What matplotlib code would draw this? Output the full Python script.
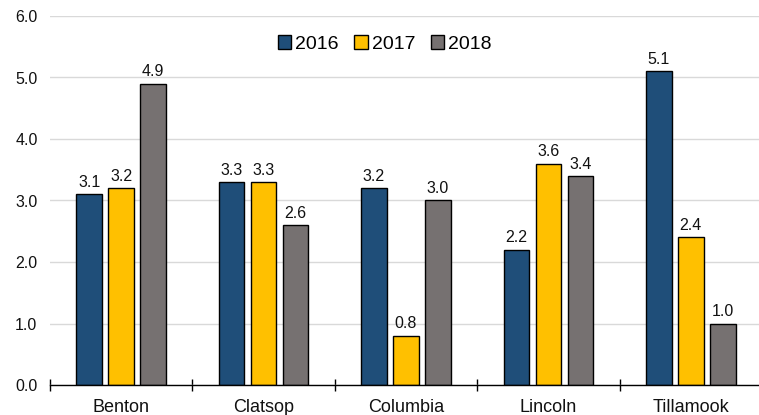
import matplotlib
matplotlib.use("Agg")
import matplotlib.pyplot as plt
import numpy as np

plt.rcParams['font.family'] = ['Liberation Sans', 'DejaVu Sans']

categories = ["Benton", "Clatsop", "Columbia", "Lincoln", "Tillamook"]
years = ["2016", "2017", "2018"]
v2016 = [3.1, 3.3, 3.2, 2.2, 5.1]
v2017 = [3.2, 3.3, 0.8, 3.6, 2.4]
v2018 = [4.9, 2.6, 3.0, 3.4, 1.0]
colors = ["#1F4E79", "#FFC000", "#767171"]

fig = plt.figure(figsize=(7.59, 4.15), dpi=100)
ax = fig.add_axes([50/759, 1-385/415, 712/759, (385-16)/415])

x = np.arange(len(categories))
width = 0.18
pitch = 0.225
for i, (vals, yr, c) in enumerate(zip([v2016, v2017, v2018], years, colors)):
    pos = x + (i - 1) * pitch
    bars = ax.bar(pos, vals, width, color=c, edgecolor="black", linewidth=1.0, label=yr, zorder=3)
    for b, v in zip(bars, vals):
        ax.text(b.get_x() + b.get_width()/2, v + 0.07, f"{v:.1f}", ha="center", va="bottom",
                fontsize=11.5, color="#111111")

ax.set_ylim(0, 6)
ax.set_xlim(-0.5, 4.5)
ax.set_yticks(np.arange(0, 6.01, 1.0))
ax.set_yticklabels([f"{t:.1f}" for t in np.arange(0, 6.01, 1.0)], fontsize=11.5, color="#111111")
ax.yaxis.grid(True, color="#D9D9D9", linewidth=1, zorder=0)
ax.set_axisbelow(True)
ax.tick_params(axis="y", length=0, pad=9)

ax.set_xticks(x)
ax.set_xticklabels(categories, fontsize=13, color="#111111")
ax.tick_params(axis="x", length=0, pad=10)
ax.set_xticks(np.arange(-0.5, 4.6, 1.0), minor=True)
ax.tick_params(axis="x", which="minor", length=8, direction="inout", width=1)

for s in ["left", "right", "top"]:
    ax.spines[s].set_visible(False)
ax.spines["bottom"].set_color("black")
ax.spines["bottom"].set_linewidth(1.0)
ax.spines["bottom"].set_zorder(4)

leg = ax.legend(loc="upper center", bbox_to_anchor=(0.47, 0.995), ncol=3, frameon=False,
                fontsize=14, handlelength=0.7, handleheight=0.7, handletextpad=0.2,
                columnspacing=0.8)

fig.savefig("out.png", dpi=100)
